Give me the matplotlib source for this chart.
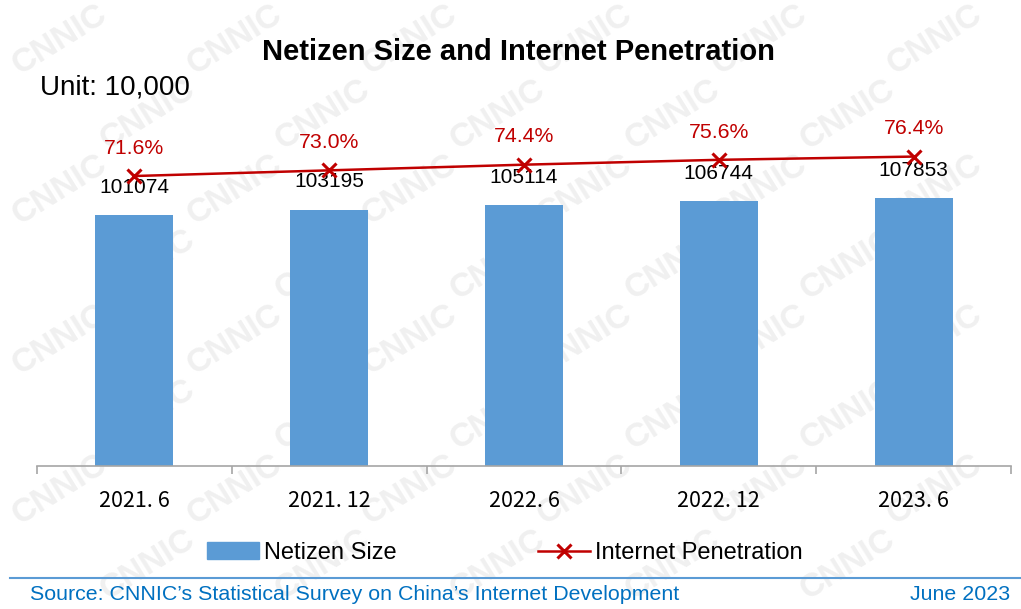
import numpy as np
import matplotlib.pyplot as plt
from matplotlib.patches import Patch
from matplotlib.lines import Line2D

# ------------------------------------------------------------
# data
# ------------------------------------------------------------
periods = ["2021. 6", "2021. 12", "2022. 6", "2022. 12", "2023. 6"]
netizens = [101074, 103195, 105114, 106744, 107853]  # unit: 10,000
penetration = [71.6, 73.0, 74.4, 75.6, 76.4]  # percent

bar_color = "#5b9bd5"
line_color = "#c00000"
blue_text = "#0070c0"

plt.rcParams["font.family"] = ["Liberation Sans", "DejaVu Sans"]

fig = plt.figure(figsize=(10.21, 6.09), dpi=100)

# ---- watermark (background axes, behind everything) ----
bg = fig.add_axes([0, 0, 1, 1], zorder=-10)
bg.set_xlim(0, 1021)
bg.set_ylim(609, 0)
bg.axis("off")
for row in range(0, 8):
    for col in range(-1, 7):
        wx = col * 175 + (row % 2) * 88 + 60
        wy = row * 75 + 40
        if 45 < wx < 975 and 25 < wy < 570:
            bg.text(wx, wy, "CNNIC", fontsize=24, fontweight="bold", color="#f0f0f0",
                    rotation=32, ha="center", va="center")

ax = fig.add_axes([37 / 1021, 143 / 609, 974 / 1021, 405 / 609])
ax.patch.set_alpha(0)
x = np.arange(len(periods))

ax.bar(x, netizens, width=0.4, color=bar_color, zorder=2)
ax.set_ylim(0, 101074 * 405 / 251)
ax.set_xlim(-0.5, len(periods) - 0.5)

for xi, v in zip(x, netizens):
    ax.annotate(str(v), (xi, v), xytext=(0, 20), textcoords="offset points",
                ha="center", va="center", fontsize=15, color="black")

ax2 = ax.twinx()
ax2.set_ylim(0, 100)
ax2.plot(x, penetration, color=line_color, lw=1.8, marker="x", ms=10, mew=2.2, zorder=3)
for xi, v in zip(x, penetration):
    ax2.annotate(f"{v:.1f}%", (xi, v), xytext=(0, 20), textcoords="offset points",
                 ha="center", va="center", fontsize=15.3, color=line_color)

for a in (ax, ax2):
    for s in ("top", "right", "left"):
        a.spines[s].set_visible(False)
    a.set_yticks([])
ax2.spines["bottom"].set_visible(False)
ax.spines["bottom"].set_color("#a6a6a6")
ax.spines["bottom"].set_linewidth(1.2)

ax.set_xticks(x)
ax.set_xticklabels(periods, fontsize=15.5, family=["Noto Sans CJK SC", "DejaVu Sans"])
ax.tick_params(axis="x", which="major", length=0, pad=17)
ax.set_xticks(np.arange(-0.5, len(periods)), minor=True)
ax.tick_params(axis="x", which="minor", length=6, color="#a6a6a6", width=1.2)

# ---- title and unit ----
fig.text(518 / 1021, 1 - 52 / 609, "Netizen Size and Internet Penetration",
         fontsize=21, fontweight="bold", ha="center", va="center")
fig.text(40 / 1021, 1 - 87 / 609, "Unit: 10,000", fontsize=20, ha="left", va="center")

# ---- legend ----
handles = [Patch(color=bar_color),
           Line2D([], [], color=line_color, lw=1.8, marker="x", ms=10, mew=2.2)]
fig.legend(handles, ["Netizen Size", "Internet Penetration"], loc="center",
           bbox_to_anchor=(505 / 1021, 1 - 553 / 609), ncol=2, frameon=False,
           fontsize=17, handlelength=2.2, handleheight=0.7, handletextpad=0.2,
           columnspacing=6)

# ---- footer ----
fig.add_artist(Line2D([10 / 1021, 1], [1 - 578 / 609] * 2, color="#5b9bd5", lw=1.5))
fig.text(30 / 1021, 1 - 594 / 609, "Source: CNNIC\u2019s Statistical Survey on China\u2019s Internet Development",
         fontsize=15.4, color=blue_text, ha="left", va="center")
fig.text(1010 / 1021, 1 - 594 / 609, "June 2023", fontsize=15.4, color=blue_text,
         ha="right", va="center")

fig.savefig("out.png", dpi=100)
